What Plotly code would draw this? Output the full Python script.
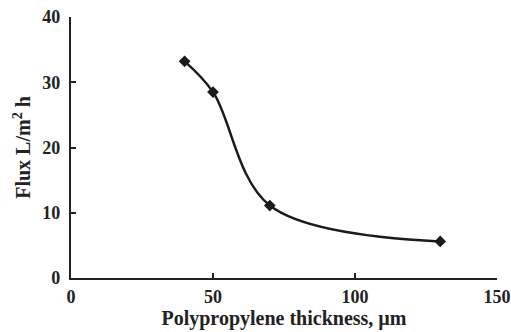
import plotly.graph_objects as go

thickness = [40, 50, 70, 130]
flux = [33.2, 28.5, 11.1, 5.6]

fig = go.Figure()
fig.add_trace(go.Scatter(
    x=thickness, y=flux, mode="lines+markers",
    line=dict(color="#1a1a1a", width=2.4, shape="spline", smoothing=1.0),
    marker=dict(symbol="diamond", size=9, color="#1a1a1a"),
    showlegend=False,
))

tf = dict(family="Liberation Serif", size=18, color="#222", weight="bold")
ttf = dict(family="Liberation Serif", size=20, color="#222", weight="bold")
fig.update_layout(
    width=511, height=332,
    margin=dict(l=71, r=14, t=17, b=54),
    paper_bgcolor="white", plot_bgcolor="white",
    font=dict(family="Liberation Serif", size=14, color="#222"),
)
fig.update_xaxes(
    range=[0, 150], tickvals=[0, 50, 100, 150],
    ticks="inside", ticklen=5, tickwidth=2, tickcolor="#222",
    showline=True, linewidth=2.4, linecolor="#222", showgrid=False, zeroline=False,
    tickfont=tf, automargin=False,
    title=dict(text="<b>Polypropylene thickness, µm</b>", font=ttf, standoff=2),
    ticklabelstandoff=1,
)
fig.update_yaxes(
    range=[0, 40], tickvals=[0, 10, 20, 30, 40],
    ticks="inside", ticklen=5, tickwidth=2, tickcolor="#222",
    showline=True, linewidth=2.4, linecolor="#222", showgrid=False, zeroline=False,
    tickfont=tf, automargin=False,
    title=dict(text="<b>Flux L/m<sup>2</sup> h</b>", font=ttf, standoff=6),
    ticklabelstandoff=5,
)

fig.write_html("out.html")
